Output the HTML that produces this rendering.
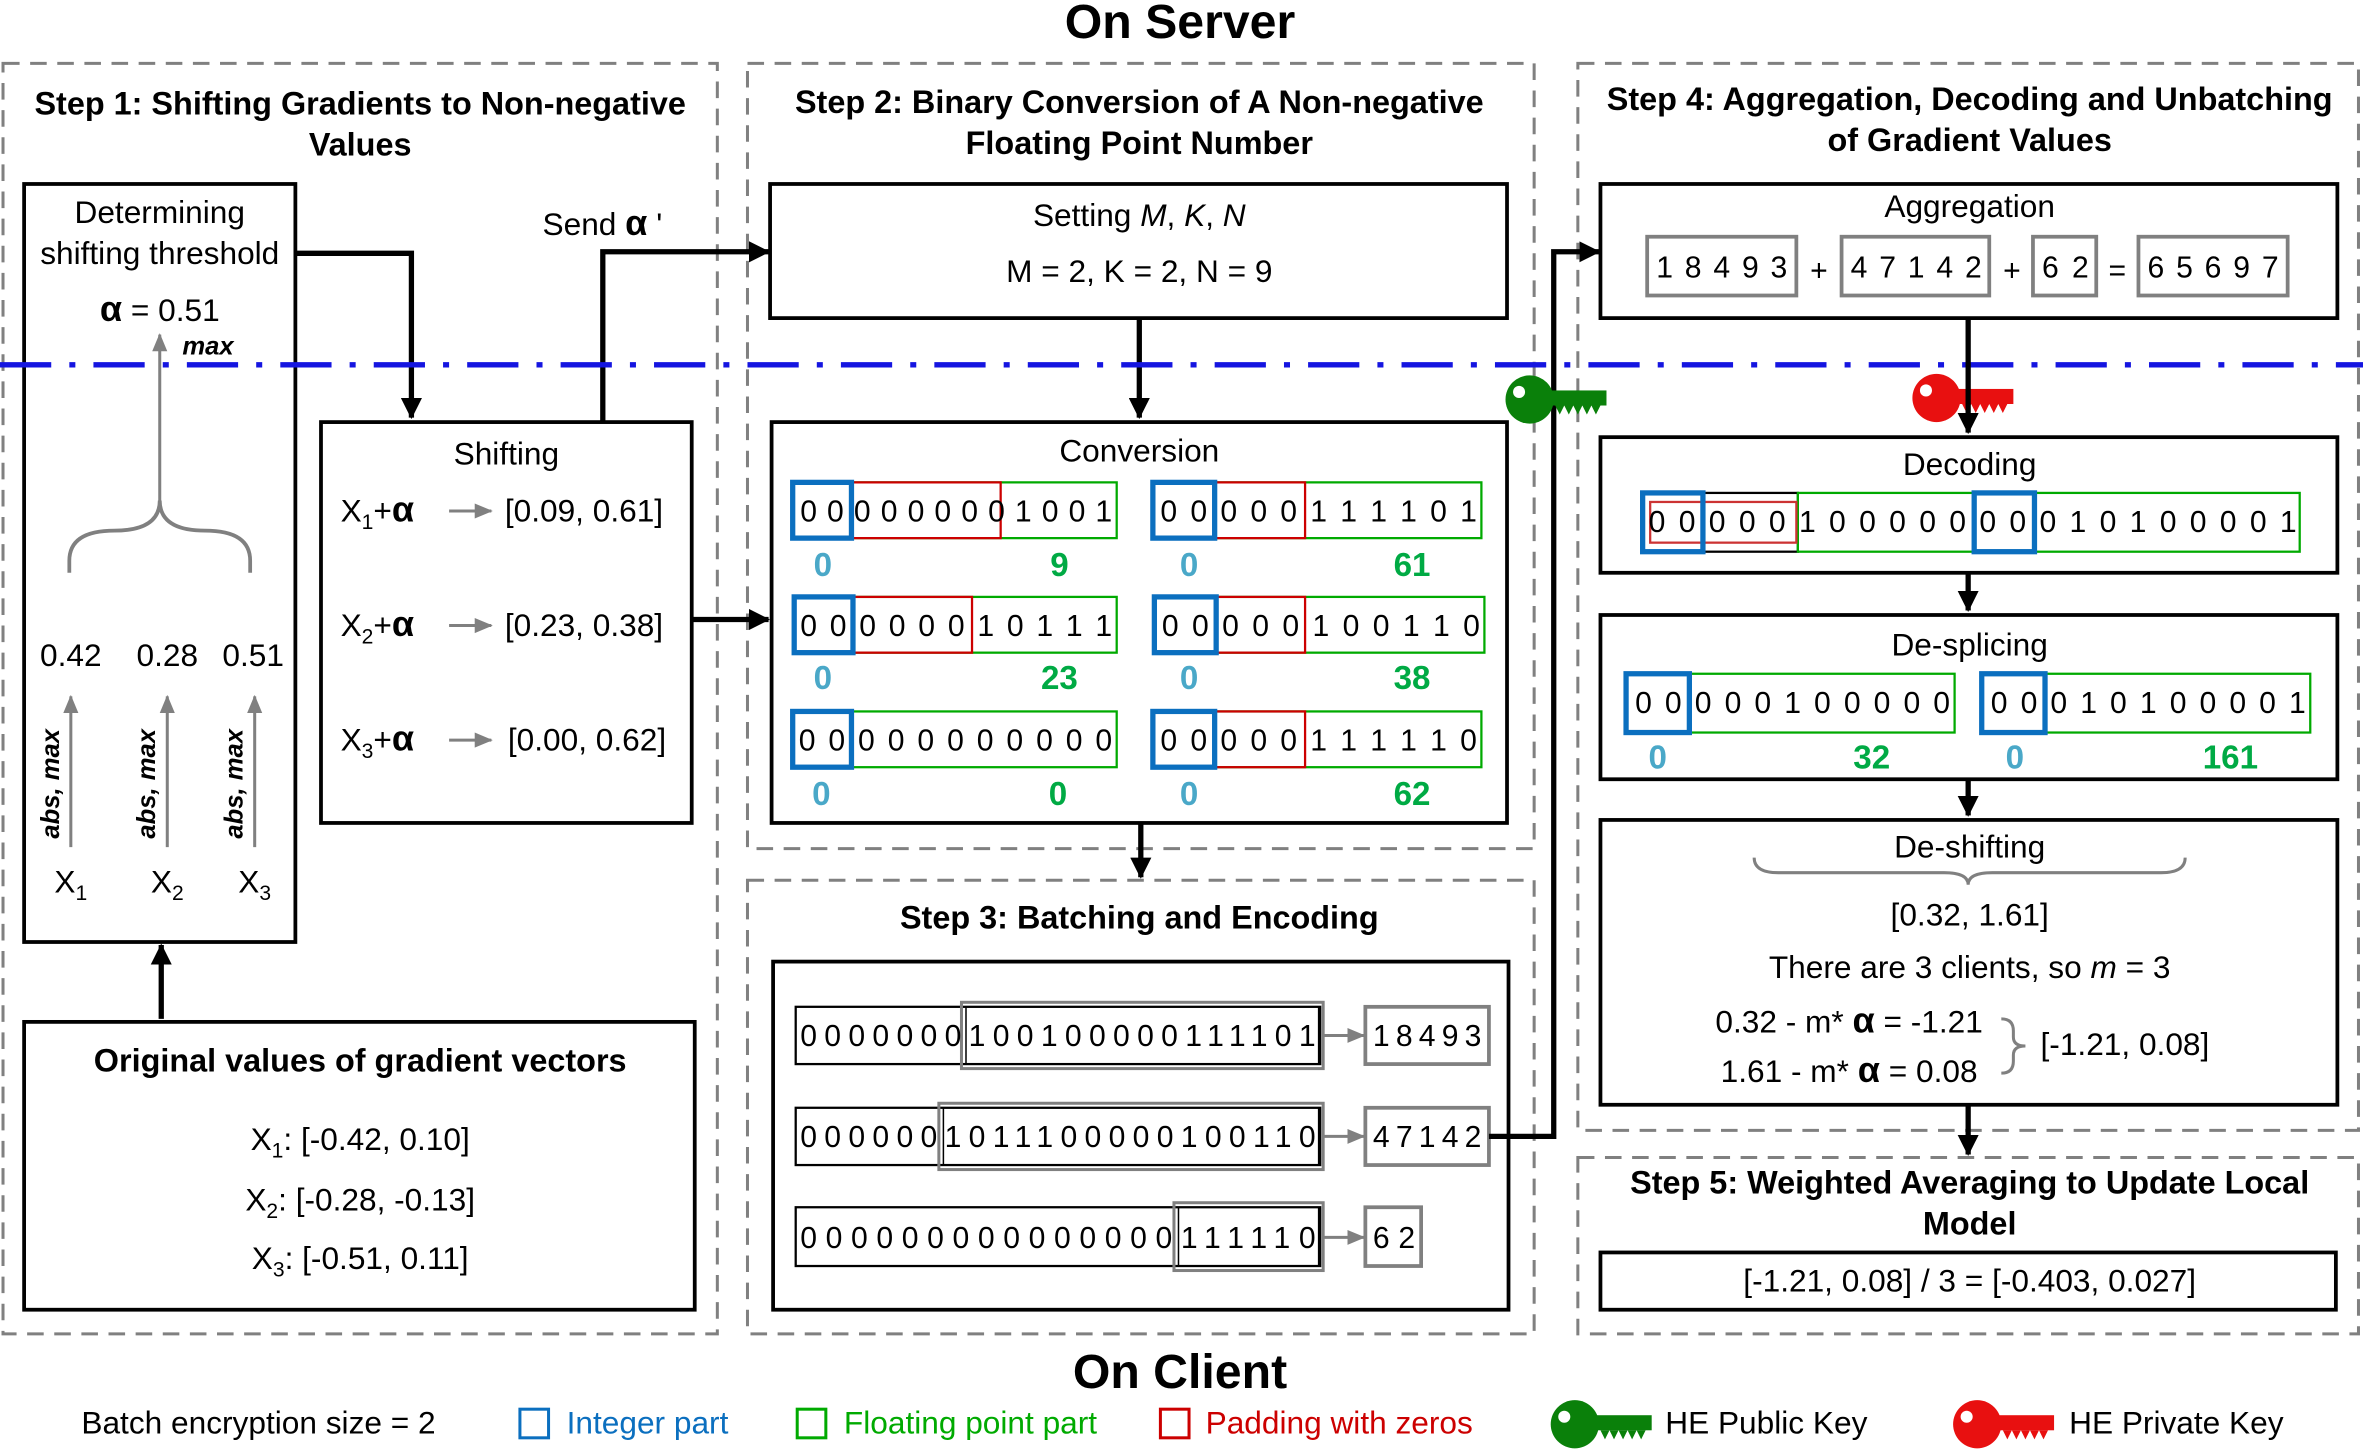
<!DOCTYPE html>
<html><head><meta charset="utf-8"><style>
html,body{margin:0;padding:0;background:#fff}
svg{display:block}
text{font-family:"Liberation Sans",Arial,sans-serif;fill:#000}
.t{font-size:21px}
.b{font-weight:bold}
.bt{font-size:21.5px;font-weight:bold}
.m{text-anchor:middle}
.bit{font-size:20px}
</style></head><body>
<svg width="2363" height="1450" viewBox="0 0 1568 962" xmlns="http://www.w3.org/2000/svg">
<defs>
<marker id="abig" markerWidth="14" markerHeight="14" refX="13" refY="7" orient="auto" markerUnits="userSpaceOnUse"><path d="M0,0 L14,7 L0,14 z" fill="#000"/></marker>
<marker id="ag" markerWidth="12" markerHeight="12" refX="11" refY="6" orient="auto" markerUnits="userSpaceOnUse"><path d="M0,1 L12,6 L0,11 z" fill="#808080"/></marker>
<symbol id="key" viewBox="0 0 70 36" width="70" height="36">
<circle cx="17" cy="18" r="16"/>
<circle cx="10" cy="13" r="4" fill="#fff"/>
<rect x="28" y="12" width="40" height="10"/>
<path d="M34,22 l3,6 l3,-6 l3,6 l3,-6 l3,6 l3,-6 l3,6 l3,-6 l3,6 l3,-6 z"/>
</symbol>
</defs>

<text x="783" y="25" class="m b" style="font-size:32px">On Server</text>
<text x="783" y="921" class="m b" style="font-size:32px">On Client</text>

<g fill="none" stroke="#808080" stroke-width="2" stroke-dasharray="11,7">
<rect x="2" y="42" width="474" height="843"/>
<rect x="496" y="42" width="522" height="521"/>
<rect x="496" y="584" width="522" height="301"/>
<rect x="1047" y="42" width="518" height="708"/>
<rect x="1047" y="768" width="518" height="117"/>
</g>

<!-- Step 1 -->
<text x="239" y="76" class="m bt">Step 1: Shifting Gradients to Non-negative</text>
<text x="239" y="103" class="m bt">Values</text>
<rect x="16" y="122" width="180" height="503" fill="none" stroke="#000" stroke-width="2.5"/>
<text x="106" y="148" class="m t">Determining</text>
<text x="106" y="175" class="m t">shifting threshold</text>
<text x="106" y="213" class="m t"><tspan style="font-size:24px;font-weight:bold">α</tspan> = 0.51</text>
<text x="138" y="235" class="m b" style="font-size:17px;font-style:italic">max</text>
<line x1="106" y1="335" x2="106" y2="222" stroke="#808080" stroke-width="2" marker-end="url(#ag)"/>
<path d="M46,380 V372 Q46,352 76,352 Q106,352 106,332 Q106,352 136,352 Q166,352 166,372 V380" fill="none" stroke="#808080" stroke-width="2.5"/>
<text x="47" y="442" class="m t">0.42</text>
<text x="111" y="442" class="m t">0.28</text>
<text x="168" y="442" class="m t">0.51</text>
<g stroke="#808080" stroke-width="2">
<line x1="47" y1="562" x2="47" y2="462" marker-end="url(#ag)"/>
<line x1="111" y1="562" x2="111" y2="462" marker-end="url(#ag)"/>
<line x1="169" y1="562" x2="169" y2="462" marker-end="url(#ag)"/>
</g>
<g class="b" style="font-size:17px;font-style:italic">
<text transform="translate(39,520) rotate(-90)" class="m">abs, max</text>
<text transform="translate(103,520) rotate(-90)" class="m">abs, max</text>
<text transform="translate(161,520) rotate(-90)" class="m">abs, max</text>
</g>
<text x="47" y="592" class="m t">X<tspan style="font-size:14px" dy="5">1</tspan></text>
<text x="111" y="592" class="m t">X<tspan style="font-size:14px" dy="5">2</tspan></text>
<text x="169" y="592" class="m t">X<tspan style="font-size:14px" dy="5">3</tspan></text>

<line x1="107" y1="676" x2="107" y2="627" stroke="#000" stroke-width="3.5" marker-end="url(#abig)"/>
<rect x="16" y="678" width="445" height="191" fill="none" stroke="#000" stroke-width="2.5"/>
<text x="239" y="711" class="m bt">Original values of gradient vectors</text>
<text x="239" y="763" class="m t">X<tspan style="font-size:14px" dy="5">1</tspan><tspan dy="-5">: [-0.42, 0.10]</tspan></text>
<text x="239" y="803" class="m t">X<tspan style="font-size:14px" dy="5">2</tspan><tspan dy="-5">: [-0.28, -0.13]</tspan></text>
<text x="239" y="842" class="m t">X<tspan style="font-size:14px" dy="5">3</tspan><tspan dy="-5">: [-0.51, 0.11]</tspan></text>

<polyline points="196,168 273,168 273,277" fill="none" stroke="#000" stroke-width="3.5" marker-end="url(#abig)"/>
<rect x="213" y="280" width="246" height="266" fill="none" stroke="#000" stroke-width="2.5"/>
<text x="336" y="308" class="m t">Shifting</text>
<g class="t">
<text x="226" y="346">X<tspan style="font-size:14px" dy="5">1</tspan><tspan dy="-5">+</tspan><tspan style="font-size:24px;font-weight:bold">α</tspan></text>
<text x="226" y="422">X<tspan style="font-size:14px" dy="5">2</tspan><tspan dy="-5">+</tspan><tspan style="font-size:24px;font-weight:bold">α</tspan></text>
<text x="226" y="498">X<tspan style="font-size:14px" dy="5">3</tspan><tspan dy="-5">+</tspan><tspan style="font-size:24px;font-weight:bold">α</tspan></text>
<text x="335" y="346">[0.09, 0.61]</text>
<text x="335" y="422">[0.23, 0.38]</text>
<text x="337" y="498">[0.00, 0.62]</text>
</g>
<g stroke="#808080" stroke-width="2">
<line x1="298" y1="339" x2="326" y2="339" marker-end="url(#ag)"/>
<line x1="298" y1="415" x2="326" y2="415" marker-end="url(#ag)"/>
<line x1="298" y1="491" x2="326" y2="491" marker-end="url(#ag)"/>
</g>
<polyline points="400,280 400,167 510,167" fill="none" stroke="#000" stroke-width="3.5" marker-end="url(#abig)"/>
<text x="360" y="156" class="t">Send <tspan style="font-size:24px;font-weight:bold">α</tspan> '</text>
<line x1="459" y1="411" x2="510" y2="411" stroke="#000" stroke-width="3.5" marker-end="url(#abig)"/>

<!-- Step 2 -->
<text x="756" y="75" class="m bt">Step 2: Binary Conversion of A Non-negative</text>
<text x="756" y="102" class="m bt">Floating Point Number</text>
<rect x="511" y="122" width="489" height="89" fill="none" stroke="#000" stroke-width="2.5"/>
<text x="756" y="150" class="m t">Setting <tspan font-style="italic">M</tspan>, <tspan font-style="italic">K</tspan>, <tspan font-style="italic">N</tspan></text>
<text x="756" y="187" class="m t">M = 2, K = 2, N = 9</text>
<line x1="756" y1="211" x2="756" y2="277" stroke="#000" stroke-width="3.5" marker-end="url(#abig)"/>
<rect x="512" y="280" width="488" height="266" fill="none" stroke="#000" stroke-width="2.5"/>
<text x="756" y="306" class="m t">Conversion</text>

<g fill="none" stroke-width="1.5">
<rect x="565" y="320" width="176" height="37" stroke="#0a0"/>
<rect x="565" y="320" width="99" height="37" stroke="#c00"/>
<rect x="526" y="320" width="39" height="37" stroke="#0b6fbf" stroke-width="3.5"/>
<rect x="806" y="320" width="177" height="37" stroke="#0a0"/>
<rect x="806" y="320" width="60" height="37" stroke="#c00"/>
<rect x="765" y="320" width="41" height="37" stroke="#0b6fbf" stroke-width="3.5"/>
<rect x="566" y="396" width="175" height="37" stroke="#0a0"/>
<rect x="566" y="396" width="79" height="37" stroke="#c00"/>
<rect x="527" y="396" width="39" height="37" stroke="#0b6fbf" stroke-width="3.5"/>
<rect x="807" y="396" width="178" height="37" stroke="#0a0"/>
<rect x="807" y="396" width="59" height="37" stroke="#c00"/>
<rect x="766" y="396" width="41" height="37" stroke="#0b6fbf" stroke-width="3.5"/>
<rect x="565" y="472" width="176" height="37" stroke="#0a0"/>
<rect x="526" y="472" width="39" height="37" stroke="#0b6fbf" stroke-width="3.5"/>
<rect x="806" y="472" width="177" height="37" stroke="#0a0"/>
<rect x="806" y="472" width="60" height="37" stroke="#c00"/>
<rect x="765" y="472" width="41" height="37" stroke="#0b6fbf" stroke-width="3.5"/>
</g>
<g class="bit">
<text x="531" y="346" textLength="207" lengthAdjust="spacing">0 0 0 0 0 0 0 0 1 0 0 1</text>
<text x="770" y="346" textLength="210" lengthAdjust="spacing">0 0 0 0 0 1 1 1 1 0 1</text>
<text x="531" y="422" textLength="207" lengthAdjust="spacing">0 0 0 0 0 0 1 0 1 1 1</text>
<text x="771" y="422" textLength="211" lengthAdjust="spacing">0 0 0 0 0 1 0 0 1 1 0</text>
<text x="530" y="498" textLength="208" lengthAdjust="spacing">0 0 0 0 0 0 0 0 0 0 0</text>
<text x="770" y="498" textLength="210" lengthAdjust="spacing">0 0 0 0 0 1 1 1 1 1 0</text>
</g>
<g class="b m" style="font-size:22px">
<text x="546" y="382" style="fill:#4aa8c8">0</text>
<text x="789" y="382" style="fill:#4aa8c8">0</text>
<text x="703" y="382" style="fill:#0a4">9</text>
<text x="937" y="382" style="fill:#0a4">61</text>
<text x="546" y="457" style="fill:#4aa8c8">0</text>
<text x="789" y="457" style="fill:#4aa8c8">0</text>
<text x="703" y="457" style="fill:#0a4">23</text>
<text x="937" y="457" style="fill:#0a4">38</text>
<text x="545" y="534" style="fill:#4aa8c8">0</text>
<text x="789" y="534" style="fill:#4aa8c8">0</text>
<text x="702" y="534" style="fill:#0a4">0</text>
<text x="937" y="534" style="fill:#0a4">62</text>
</g>
<line x1="757" y1="546" x2="757" y2="582" stroke="#000" stroke-width="3.5" marker-end="url(#abig)"/>

<!-- Step 3 -->
<text x="756" y="616" class="m bt">Step 3: Batching and Encoding</text>
<rect x="513" y="638" width="488" height="231" fill="none" stroke="#000" stroke-width="2.5"/>
<g fill="none">
<rect x="528" y="668" width="348" height="38" stroke="#000" stroke-width="1.5"/>
<rect x="638" y="665" width="240" height="44" stroke="#808080" stroke-width="2"/>
<rect x="641" y="668" width="234" height="38" stroke="#000" stroke-width="1"/>
<rect x="528" y="735" width="348" height="38" stroke="#000" stroke-width="1.5"/>
<rect x="623" y="732" width="255" height="44" stroke="#808080" stroke-width="2"/>
<rect x="626" y="735" width="249" height="38" stroke="#000" stroke-width="1"/>
<rect x="528" y="801" width="348" height="39" stroke="#000" stroke-width="1.5"/>
<rect x="779" y="798" width="99" height="45" stroke="#808080" stroke-width="2"/>
<rect x="782" y="801" width="93" height="39" stroke="#000" stroke-width="1"/>
<rect x="906" y="668" width="82" height="38" stroke="#808080" stroke-width="2.5"/>
<rect x="906" y="735" width="82" height="38" stroke="#808080" stroke-width="2.5"/>
<rect x="906" y="801" width="37" height="39" stroke="#808080" stroke-width="2.5"/>
</g>
<g stroke="#808080" stroke-width="2">
<line x1="878" y1="687" x2="905" y2="687" marker-end="url(#ag)"/>
<line x1="878" y1="754" x2="905" y2="754" marker-end="url(#ag)"/>
<line x1="878" y1="821" x2="905" y2="821" marker-end="url(#ag)"/>
</g>
<g class="bit">
<text x="531" y="694" textLength="342" lengthAdjust="spacing">0000000100100000111101</text>
<text x="531" y="761" textLength="342" lengthAdjust="spacing">0000001011100000100110</text>
<text x="531" y="828" textLength="342" lengthAdjust="spacing">000000000000000111110</text>
<text x="911" y="694" textLength="72" lengthAdjust="spacing">18493</text>
<text x="911" y="761" textLength="72" lengthAdjust="spacing">47142</text>
<text x="911" y="828" textLength="28" lengthAdjust="spacing">62</text>
</g>
<polyline points="988,754 1031,754 1031,167 1061,167" fill="none" stroke="#000" stroke-width="3.5" marker-end="url(#abig)"/>

<line x1="0" y1="242" x2="1568" y2="242" stroke="#1515e0" stroke-width="3.5" stroke-dasharray="34,12,4,12"/>

<use href="#key" x="998" y="247" width="70" height="36" fill="#0a800a"/>
<use href="#key" x="1268" y="246" width="70" height="36" fill="#e81010"/>

<!-- Step 4 -->
<text x="1307" y="73" class="m bt">Step 4: Aggregation, Decoding and Unbatching</text>
<text x="1307" y="100" class="m bt">of Gradient Values</text>
<rect x="1062" y="122" width="489" height="89" fill="none" stroke="#000" stroke-width="2.5"/>
<text x="1307" y="144" class="m t">Aggregation</text>
<g fill="none" stroke="#808080" stroke-width="2.5">
<rect x="1093" y="157" width="99" height="39"/>
<rect x="1222" y="157" width="98" height="39"/>
<rect x="1349" y="157" width="42" height="39"/>
<rect x="1419" y="157" width="99" height="39"/>
</g>
<g class="bit">
<text x="1099" y="184" textLength="87" lengthAdjust="spacing">1 8 4 9 3</text>
<text x="1228" y="184" textLength="87" lengthAdjust="spacing">4 7 1 4 2</text>
<text x="1355" y="184" textLength="31" lengthAdjust="spacing">6 2</text>
<text x="1425" y="184" textLength="87" lengthAdjust="spacing">6 5 6 9 7</text>
<text x="1207" y="186" class="m">+</text>
<text x="1335" y="186" class="m">+</text>
<text x="1405" y="186" class="m">=</text>
</g>
<line x1="1306" y1="211" x2="1306" y2="287" stroke="#000" stroke-width="3.5" marker-end="url(#abig)"/>

<rect x="1062" y="290" width="489" height="90" fill="none" stroke="#000" stroke-width="2.5"/>
<text x="1307" y="315" class="m t">Decoding</text>
<g fill="none">
<rect x="1130" y="327" width="63" height="39" stroke="#000" stroke-width="1.5"/>
<rect x="1193" y="327" width="333" height="39" stroke="#0a0" stroke-width="1.5"/>
<rect x="1095" y="333" width="97" height="27" stroke="#c33" stroke-width="1.5"/>
<rect x="1090" y="327" width="40" height="39" stroke="#0b6fbf" stroke-width="3.5"/>
<rect x="1310" y="327" width="40" height="39" stroke="#0b6fbf" stroke-width="3.5"/>
</g>
<text x="1094" y="353" class="bit" textLength="430" lengthAdjust="spacing">0 0 0 0 0 1 0 0 0 0 0 0 0 0 1 0 1 0 0 0 0 1</text>
<line x1="1306" y1="380" x2="1306" y2="405" stroke="#000" stroke-width="3.5" marker-end="url(#abig)"/>

<rect x="1062" y="408" width="489" height="109" fill="none" stroke="#000" stroke-width="2.5"/>
<text x="1307" y="435" class="m t">De-splicing</text>
<g fill="none">
<rect x="1121" y="447" width="176" height="39" stroke="#0a0" stroke-width="1.5"/>
<rect x="1079" y="447" width="42" height="39" stroke="#0b6fbf" stroke-width="3.5"/>
<rect x="1357" y="447" width="176" height="39" stroke="#0a0" stroke-width="1.5"/>
<rect x="1315" y="447" width="42" height="39" stroke="#0b6fbf" stroke-width="3.5"/>
</g>
<text x="1085" y="473" class="bit" textLength="209" lengthAdjust="spacing">0 0 0 0 0 1 0 0 0 0 0</text>
<text x="1321" y="473" class="bit" textLength="209" lengthAdjust="spacing">0 0 0 1 0 1 0 0 0 0 1</text>
<g class="b m" style="font-size:22px">
<text x="1100" y="510" style="fill:#4aa8c8">0</text>
<text x="1242" y="510" style="fill:#0a4">32</text>
<text x="1337" y="510" style="fill:#4aa8c8">0</text>
<text x="1480" y="510" style="fill:#0a4">161</text>
</g>
<line x1="1306" y1="517" x2="1306" y2="541" stroke="#000" stroke-width="3.5" marker-end="url(#abig)"/>

<rect x="1062" y="544" width="489" height="189" fill="none" stroke="#000" stroke-width="2.5"/>
<text x="1307" y="569" class="m t">De-shifting</text>
<path d="M1164,569 Q1164,579 1180,579 L1290,579 Q1306,579 1306,587 Q1306,579 1322,579 L1434,579 Q1450,579 1450,569" fill="none" stroke="#808080" stroke-width="2"/>
<text x="1307" y="614" class="m t">[0.32, 1.61]</text>
<text x="1307" y="649" class="m t">There are 3 clients, so <tspan font-style="italic">m</tspan> = 3</text>
<text x="1227" y="685" class="m t">0.32 - m* <tspan style="font-size:24px;font-weight:bold">α</tspan> = -1.21</text>
<text x="1227" y="718" class="m t">1.61 - m* <tspan style="font-size:24px;font-weight:bold">α</tspan> = 0.08</text>
<path d="M1328,676 Q1336,676 1336,684 L1336,688 Q1336,694 1344,694 Q1336,694 1336,700 L1336,704 Q1336,712 1328,712" fill="none" stroke="#808080" stroke-width="2"/>
<text x="1410" y="700" class="m t">[-1.21, 0.08]</text>
<line x1="1306" y1="733" x2="1306" y2="766" stroke="#000" stroke-width="3.5" marker-end="url(#abig)"/>

<!-- Step 5 -->
<text x="1307" y="792" class="m bt">Step 5: Weighted Averaging to Update Local</text>
<text x="1307" y="819" class="m bt">Model</text>
<rect x="1062" y="831" width="488" height="38" fill="none" stroke="#000" stroke-width="2.5"/>
<text x="1307" y="857" class="m t">[-1.21, 0.08] / 3 = [-0.403, 0.027]</text>

<!-- legend -->
<text x="54" y="951" class="t">Batch encryption size = 2</text>
<rect x="345" y="935" width="19" height="19" fill="none" stroke="#0b6fbf" stroke-width="2"/>
<text x="376" y="951" class="t" style="fill:#0b6fbf">Integer part</text>
<rect x="529" y="935" width="19" height="19" fill="none" stroke="#0a0" stroke-width="2"/>
<text x="560" y="951" class="t" style="fill:#0a0">Floating point part</text>
<rect x="770" y="935" width="19" height="19" fill="none" stroke="#c00" stroke-width="2"/>
<text x="800" y="951" class="t" style="fill:#c00">Padding with zeros</text>
<use href="#key" x="1028" y="927" width="70" height="36" fill="#0a800a"/>
<text x="1105" y="951" class="t">HE Public Key</text>
<use href="#key" x="1295" y="927" width="70" height="36" fill="#e81010"/>
<text x="1373" y="951" class="t">HE Private Key</text>
</svg>
</body></html>
